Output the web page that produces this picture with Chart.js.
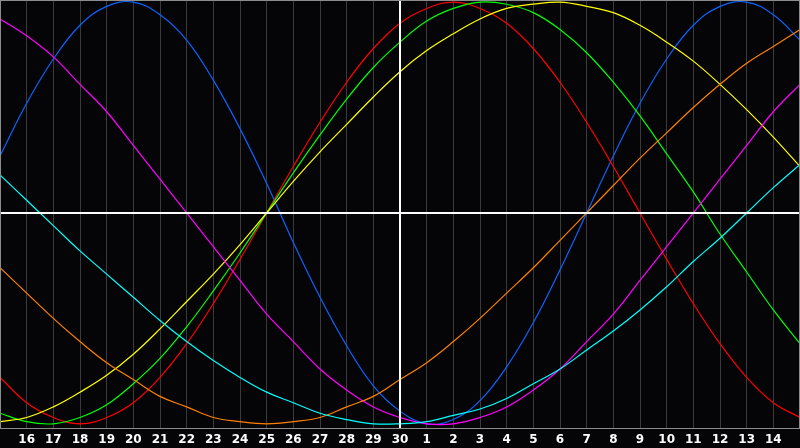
<!DOCTYPE html>
<html>
<head>
<meta charset="utf-8">
<script src="https://cdn.jsdelivr.net/npm/chart.js@4/dist/chart.umd.min.js"></script>
<style>
  html, body { margin: 0; padding: 0; background: #050508; }
  #wrap { width: 800px; height: 448px; }
</style>
</head>
<body>
<div id="wrap"><canvas id="c" width="800" height="448"></canvas></div>
<script>
// Day labels (index 0 and 30 are the unlabeled edges)
const dayLabels = ['15','16','17','18','19','20','21','22','23','24','25','26','27','28','29','30',
                   '1','2','3','4','5','6','7','8','9','10','11','12','13','14','15'];
const todayIndex = 15;

// Cycle values (percent, -100..100) at each day gridline
const physical  = [27,52,73,89,98,100,94,82,63,40,14,-14,-40,-63,-82,-94,-100,-98,-89,-73,-52,-27,0,27,52,73,89,98,100,94,82];
const emotional = [-78,-90,-97,-100,-97,-90,-78,-62,-43,-22,0,22,43,62,78,90,97,100,97,90,78,62,43,22,0,-22,-43,-62,-78,-90,-97];
const intellect = [-95,-99,-100,-97,-91,-81,-69,-54,-37,-19,0,19,37,54,69,81,91,97,100,99,95,87,76,62,46,28,10,-10,-28,-46,-62];
const aesthetic = [-99,-97,-92,-85,-77,-67,-55,-42,-29,-15,0,15,29,42,55,67,77,85,92,97,99,100,98,95,89,81,72,61,49,36,22];
const awareness = [-26,-38,-50,-61,-71,-79,-87,-92,-97,-99,-100,-99,-97,-92,-87,-79,-71,-61,-50,-38,-26,-13,0,13,26,38,50,61,71,79,87];
const intuition = [92,84,74,61,48,32,16,0,-16,-32,-48,-61,-74,-84,-92,-97,-100,-100,-97,-92,-84,-74,-61,-48,-32,-16,0,16,32,48,61];
const spiritual = [18,6,-6,-18,-29,-40,-51,-61,-70,-78,-85,-90,-95,-98,-100,-100,-99,-96,-93,-88,-81,-74,-65,-56,-46,-35,-23,-12,0,12,23];

const series = [
  { data: spiritual, color: '#00ffff' },
  { data: awareness, color: '#ff8000' },
  { data: intuition, color: '#ff00ff' },
  { data: aesthetic, color: '#ffff00' },
  { data: intellect, color: '#00ff00' },
  { data: emotional, color: '#ff0000' },
  { data: physical,  color: '#0a64ff' }
];

const overlay = {
  id: 'overlay',
  afterDatasetsDraw(chart) {
    const { ctx, chartArea: a, scales: { x, y } } = chart;
    ctx.save();
    ctx.strokeStyle = '#ffffff';
    ctx.lineWidth = 2;
    const y0 = Math.round(y.getPixelForValue(0));
    ctx.beginPath(); ctx.moveTo(a.left, y0); ctx.lineTo(a.right, y0); ctx.stroke();
    const xt = Math.round(x.getPixelForValue(todayIndex));
    ctx.beginPath(); ctx.moveTo(xt, a.top); ctx.lineTo(xt, a.bottom); ctx.stroke();
    ctx.strokeStyle = '#8c8c8c';
    ctx.lineWidth = 1;
    ctx.strokeRect(a.left + 0.5, a.top + 0.5, a.right - a.left - 1, a.bottom - a.top);
    ctx.restore();
  }
};

new Chart(document.getElementById('c'), {
  type: 'line',
  data: {
    labels: dayLabels,
    datasets: series.map(s => ({
      data: s.data,
      borderColor: s.color,
      borderWidth: 1.2,
      pointRadius: 0,
      pointHoverRadius: 0,
      tension: 0.4,
      fill: false
    }))
  },
  options: {
    responsive: false,
    animation: false,
    devicePixelRatio: 1,
    layout: { padding: 0, autoPadding: false },
    plugins: { legend: { display: false }, tooltip: { enabled: false } },
    scales: {
      x: {
        type: 'category',
        offset: false,
        grid: { color: '#3a3a3a', lineWidth: 1, drawTicks: false },
        border: { display: false },
        ticks: {
          color: '#ffffff',
          font: { family: 'DejaVu Sans', size: 12, weight: 'bold' },
          padding: 5,
          autoSkip: false,
          maxRotation: 0,
          callback: (v, i) => (i === 0 || i === dayLabels.length - 1) ? '' : dayLabels[i]
        },
        afterFit: s => { s.height = 20; s.paddingLeft = 0; s.paddingRight = 0; }
      },
      y: {
        min: -102,
        max: 101,
        grid: { display: false },
        border: { display: false },
        ticks: { display: false },
        afterFit: s => { s.width = 0; }
      }
    }
  },
  plugins: [overlay]
});
</script>
</body>
</html>
